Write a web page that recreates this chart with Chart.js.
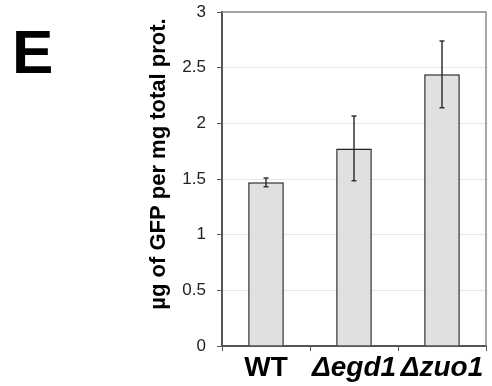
<!DOCTYPE html>
<html>
<head>
<meta charset="utf-8">
<script src="https://cdn.jsdelivr.net/npm/chart.js@4"></script>
<style>
  html, body { margin: 0; padding: 0; background: #fff; }
  #wrap { width: 492px; height: 386px; }
</style>
</head>
<body>
<div id="wrap"><canvas id="chart" width="492" height="386"></canvas></div>
<script>
const strains = ['WT', 'Δegd1', 'Δzuo1']
const gfpLevel = [1.47, 1.775, 2.44]
const gfpError = [0.04, 0.29, 0.30]
const yTicks = [0, 0.5, 1, 1.5, 2, 2.5, 3]
const yTitle = 'µg of GFP per mg total prot.'
const panelLetter = 'E'

const FONT = '"Liberation Sans", Arial, Helvetica, sans-serif'

// error bars, plot frame, panel letter and y title
const extras = {
    id: 'extras',
    afterDatasetsDraw(chart) {
        const ctx = chart.ctx
        const x = chart.scales.x
        const y = chart.scales.y
        const area = chart.chartArea

        ctx.save()
        ctx.strokeStyle = '#333'
        ctx.lineWidth = 1.5
        gfpLevel.forEach((v, i) => {
            const cx = x.getPixelForValue(i)
            const top = y.getPixelForValue(v + gfpError[i])
            const bot = y.getPixelForValue(v - gfpError[i])
            ctx.beginPath()
            ctx.moveTo(cx, top); ctx.lineTo(cx, bot)
            ctx.moveTo(cx - 2.5, top); ctx.lineTo(cx + 2.5, top)
            ctx.moveTo(cx - 2.5, bot); ctx.lineTo(cx + 2.5, bot)
            ctx.stroke()
        })

        // top and right frame
        ctx.strokeStyle = '#8a8a8a'
        ctx.lineWidth = 1.5
        ctx.beginPath()
        ctx.moveTo(area.left, area.top)
        ctx.lineTo(area.right, area.top)
        ctx.lineTo(area.right, area.bottom)
        ctx.stroke()

        ctx.fillStyle = '#000'
        ctx.font = 'bold 62px ' + FONT
        ctx.textBaseline = 'alphabetic'
        ctx.textAlign = 'left'
        ctx.fillText(panelLetter, 12, 73)

        ctx.translate(159, 164)
        ctx.rotate(-Math.PI / 2)
        ctx.font = 'bold 22px ' + FONT
        ctx.textAlign = 'center'
        ctx.textBaseline = 'middle'
        ctx.fillText(yTitle, 0, 0)
        ctx.restore()
    }
}

new Chart(document.getElementById('chart'), {
    type: 'bar',
    data: {
        labels: strains,
        datasets: [{
            data: gfpLevel,
            backgroundColor: '#e0e0e0',
            borderColor: '#222',
            borderWidth: 1.5,
            categoryPercentage: 1,
            barPercentage: 0.405
        }]
    },
    options: {
        responsive: false,
        animation: false,
        layout: { padding: { top: 12, right: 6, left: 0, bottom: 0 } },
        plugins: { legend: { display: false }, tooltip: { enabled: false } },
        scales: {
            x: {
                grid: { offset: true, drawOnChartArea: false, drawTicks: true, tickLength: 5, color: '#555' },
                border: { color: '#555', width: 2 },
                ticks: {
                    color: '#000',
                    padding: 0,
                    maxRotation: 0,
                    minRotation: 0,
                    autoSkip: false,
                    font: (c) => ({
                        family: FONT,
                        size: 28,
                        weight: 'bold',
                        style: c.index === 0 ? 'normal' : 'italic'
                    })
                },
                afterFit(scale) {
                    scale.height = 40
                    scale.paddingLeft = 0
                    scale.paddingRight = 0
                }
            },
            y: {
                min: 0,
                max: 3,
                afterBuildTicks(scale) { scale.ticks = yTicks.map(v => ({ value: v })) },
                grid: { color: '#e6e6e6', lineWidth: 1, tickLength: 5, tickColor: '#555' },
                border: { color: '#555', width: 2 },
                ticks: {
                    color: '#222',
                    padding: 11,
                    font: { family: FONT, size: 17 },
                    callback: (v) => String(v)
                },
                afterFit(scale) {
                    scale.width = 222
                    scale.paddingTop = 0
                    scale.paddingBottom = 0
                }
            }
        }
    },
    plugins: [extras]
})
</script>
</body>
</html>
